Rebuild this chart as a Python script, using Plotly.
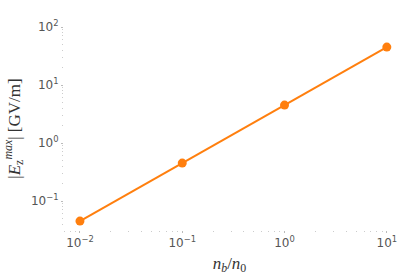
import plotly.graph_objects as go

nb_over_n0 = [0.01, 0.1, 1, 10]
ez_max = [0.045, 0.45, 4.5, 45]

x_tickvals = [0.01, 0.1, 1, 10]
x_ticktext = ["10<sup>−2</sup>", "10<sup>−1</sup>", "10<sup>0</sup>", "10<sup>1</sup>"]
y_tickvals = [0.1, 1, 10, 100]
y_ticktext = ["10<sup>−1</sup>", "10<sup>0</sup>", "10<sup>1</sup>", "10<sup>2</sup>"]

fig = go.Figure()
fig.add_trace(go.Scatter(
    x=nb_over_n0, y=ez_max, mode="lines+markers",
    line=dict(color="#ff7f0e", width=2),
    marker=dict(color="#ff7f0e", size=9),
    showlegend=False,
))

tickfont = dict(family="DejaVu Sans", size=12, color="#555555")
titlefont = dict(family="Liberation Serif", size=17, color="#333333")

fig.update_xaxes(
    type="log", range=[-2.156, 1.08], tickvals=x_tickvals, ticktext=x_ticktext,
    showgrid=False, zeroline=False, showline=False, automargin=False,
    ticks="outside", ticklen=2, tickcolor="#bbbbbb", tickfont=tickfont,
    minor=dict(ticks="outside", ticklen=1, tickcolor="#cccccc", showgrid=False, dtick="D1"),
    title=dict(text="<i>n<sub>b</sub></i>/<i>n</i><sub>0</sub>", font=titlefont, standoff=7),
)
fig.update_yaxes(
    type="log", range=[-1.5, 2.0], tickvals=y_tickvals, ticktext=y_ticktext,
    showgrid=False, zeroline=False, showline=False, automargin=False,
    ticks="outside", ticklen=2, tickcolor="#bbbbbb", tickfont=tickfont,
    minor=dict(ticks="outside", ticklen=1, tickcolor="#cccccc", showgrid=False, dtick="D1"),
    title=dict(text="|<i>E</i><sub>z</sub><sup><i>max</i></sup>| [GV/m]", font=titlefont, standoff=6),
)
fig.update_layout(
    width=408, height=278,
    margin=dict(l=64, r=13, t=27, b=48),
    paper_bgcolor="white", plot_bgcolor="white",
)
fig.write_html(
    "out.html",
    config={"displayModeBar": False},
    post_script="document.body.style.margin='0px';document.body.style.overflow='hidden';",
)
